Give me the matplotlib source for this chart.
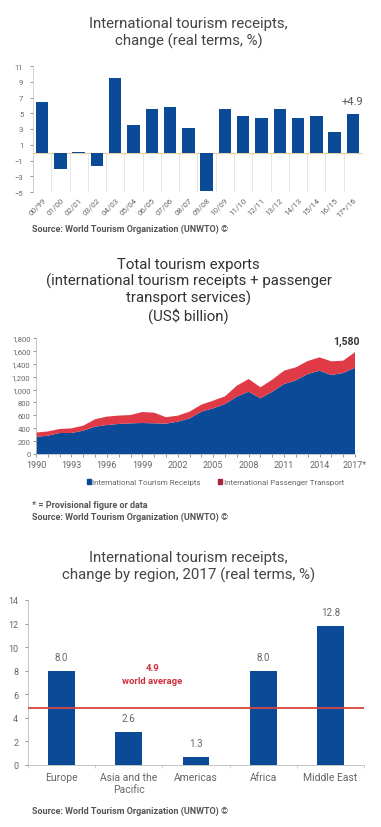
import numpy as np
import matplotlib
matplotlib.use('Agg')
import matplotlib.pyplot as plt
from matplotlib.patches import Patch

plt.rcParams['font.family'] = ['Roboto', 'DejaVu Sans']

BLUE = '#0b4a96'
RED = '#e03a47'
GREY = '#555555'
TICK = '#666666'

# chart 1: receipts change by year
periods = ['00/99', '01/00', '02/01', '03/02', '04/03', '05/04', '06/05', '07/06', '08/07',
           '09/08', '10/09', '11/10', '12/11', '13/12', '14/13', '15/14', '16/15', '17*/16']
change = [6.4, -2.1, 0.1, -1.7, 9.5, 3.5, 5.5, 5.8, 3.1,
          -4.9, 5.5, 4.6, 4.4, 5.5, 4.4, 4.6, 2.6, 4.9]

# chart 2: total tourism exports
years = list(range(1990, 2018))
receipts = [268, 283, 326, 326, 362, 424, 450, 466, 476, 481, 476, 471, 502, 553,
            657, 709, 776, 890, 967, 864, 967, 1086, 1143, 1242, 1293, 1226, 1257, 1340]
transport = [65, 67, 62, 72, 78, 115, 130, 130, 129, 170, 165, 100, 93, 104,
             109, 119, 119, 170, 197, 171, 187, 207, 202, 201, 207, 212, 191, 240]

# chart 3: change by region
regions = ['Europe', 'Asia and the\nPacific', 'Americas', 'Africa', 'Middle East']
region_bars = [8.0, 2.8, 0.7, 8.0, 11.8]
region_labels = ['8.0', '2.6', '1.3', '8.0', '12.8']
world_avg = 4.8

fig = plt.figure(figsize=(3.81, 8.28), dpi=100)

def source(y):
    fig.text(32 / 381, 1 - y / 828, 'Source: World Tourism Organization (UNWTO) \u00a9',
             fontsize=6.5, fontweight='bold', color=GREY, va='center', ha='left')

# ---------- chart 1 ----------
fig.text(0.495, 1 - 33 / 828, 'International tourism receipts,\nchange (real terms, %)',
         ha='center', va='center', fontsize=10.8, color='#444444', linespacing=1.2)
ax1 = fig.add_axes([33 / 381, 1 - 193 / 828, 329 / 381, 126 / 828])
x = np.arange(len(periods))
ax1.bar(x, change, width=0.68, color=BLUE, zorder=3)
ax1.set_xlim(-0.5, len(periods) - 0.5)
ax1.set_ylim(-5, 11)
ax1.set_yticks(range(-5, 12, 2))
ax1.vlines(np.arange(-0.5, len(periods)), -5, 0, color='#e2e2e2', lw=0.6, zorder=1)
ax1.axhline(0, color='#e8cfa8', lw=0.9, zorder=2)
ax1.set_xticks(x)
ax1.set_xticklabels(periods, rotation=45, ha='right', rotation_mode='anchor')
ax1.tick_params(axis='x', length=0, labelsize=5.8, colors=TICK, pad=3)
ax1.tick_params(axis='y', length=2, width=0.5, labelsize=5.5, colors=TICK, pad=5)
for s in ['top', 'right', 'bottom']:
    ax1.spines[s].set_visible(False)
ax1.spines['left'].set_color('#cccccc')
ax1.spines['left'].set_linewidth(0.6)
ax1.text(x[-1], change[-1] + 1.0, '+4.9', ha='center', va='bottom', fontsize=8, color=GREY)
source(229)

# ---------- chart 2 ----------
fig.text(0.495, 1 - 291 / 828,
         'Total tourism exports\n(international tourism receipts + passenger\ntransport services)\n(US$ billion)',
         ha='center', va='center', fontsize=10.8, color='#333333', linespacing=1.15)
ax2 = fig.add_axes([36 / 381, 1 - 455 / 828, 319 / 381, 116 / 828])
ax2.stackplot(years, receipts, transport, colors=[BLUE, RED], lw=0)
ax2.set_xlim(years[0], years[-1])
ax2.set_ylim(0, 1800)
ax2.set_yticks(range(0, 1801, 200))
ax2.set_yticklabels(['{:,}'.format(v) for v in range(0, 1801, 200)])
xt = years[::3]
ax2.set_xticks(xt)
ax2.set_xticklabels([str(y) for y in xt[:-1]] + ['2017*'])
ax2.set_xticks(years, minor=True)
ax2.tick_params(axis='x', which='both', length=2, width=0.5, labelsize=6.5, colors=TICK, pad=2)
ax2.tick_params(axis='y', length=2, width=0.5, labelsize=5.5, colors=TICK, pad=2)
for s in ['top', 'right']:
    ax2.spines[s].set_visible(False)
for s in ['left', 'bottom']:
    ax2.spines[s].set_color('#bbbbbb')
    ax2.spines[s].set_linewidth(0.6)
total_last = receipts[-1] + transport[-1]
ax2.text(years[-1] - 0.7, total_last + 90, '{:,}'.format(total_last), ha='center', va='bottom',
         fontsize=7.5, fontweight='bold', color='#333333')
handles = [Patch(color=BLUE, label='International Tourism Receipts'),
           Patch(color='#a8283a', label='International Passenger Transport')]
fig.legend(handles=handles, loc='center', bbox_to_anchor=(0.565, 1 - 483 / 828), ncol=2,
           frameon=False, fontsize=5.8, handlelength=0.5, handleheight=0.5,
           handletextpad=0.15, columnspacing=2.2, labelcolor=TICK)
fig.text(32 / 381, 1 - 506 / 828, '* = Provisional figure or data', fontsize=6.5,
         fontweight='bold', color=GREY, va='center')
source(517)

# ---------- chart 3 ----------
fig.text(0.495, 1 - 567 / 828, 'International tourism receipts,\nchange by region, 2017 (real terms, %)',
         ha='center', va='center', fontsize=10.8, color='#444444', linespacing=1.2)
ax3 = fig.add_axes([28 / 381, 1 - 766 / 828, 336 / 381, 165 / 828])
xr = np.arange(len(regions))
ax3.bar(xr, region_bars, width=0.4, color=BLUE, zorder=2)
for xi, v, lab in zip(xr, region_bars, region_labels):
    ax3.text(xi, v + 0.75, lab, ha='center', va='bottom', fontsize=7, color=TICK)
ax3.axhline(world_avg, color='#d9453f', lw=1.3, zorder=3)
ax3.text(1.35, 8.25, '4.9', ha='center', va='center', fontsize=6.8, fontweight='bold', color='#d02f3a')
ax3.text(1.35, 7.2, 'world average', ha='center', va='center', fontsize=6.8, fontweight='bold',
         color='#d02f3a')
ax3.set_xlim(-0.5, len(regions) - 0.5)
ax3.set_ylim(0, 14)
ax3.set_yticks(range(0, 15, 2))
ax3.set_xticks(xr)
ax3.set_xticklabels(regions)
ax3.set_xticks(np.arange(-0.5, len(regions)), minor=True)
ax3.tick_params(axis='x', which='major', length=0, labelsize=7.5, colors=TICK, pad=5)
ax3.tick_params(axis='x', which='minor', length=2, width=0.5, color='#bbbbbb')
ax3.tick_params(axis='y', length=2, width=0.5, labelsize=6.5, colors=TICK, pad=5)
for s in ['top', 'right']:
    ax3.spines[s].set_visible(False)
for s in ['left', 'bottom']:
    ax3.spines[s].set_color('#bbbbbb')
    ax3.spines[s].set_linewidth(0.6)
source(811)

fig.savefig('out.png', dpi=100)
